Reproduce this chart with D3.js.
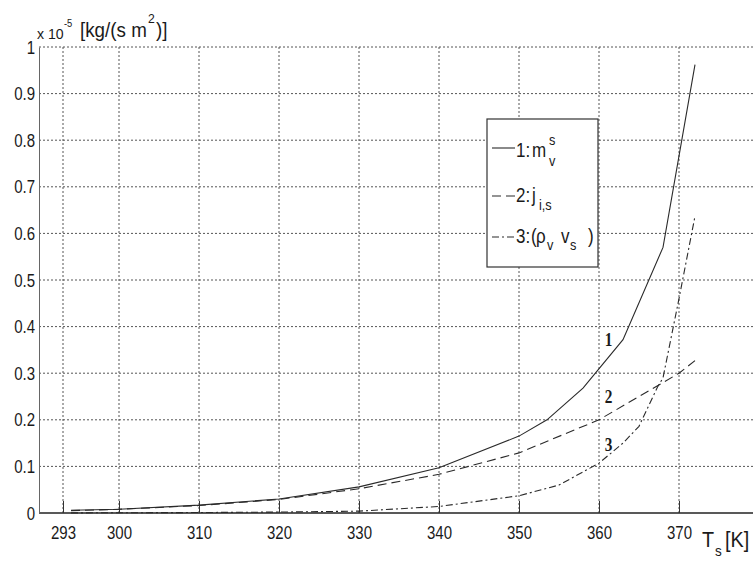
<!DOCTYPE html>
<html>
<head>
<meta charset="utf-8">
<style>
  body { margin: 0; background: #fff; }
  svg text { font-family: "Liberation Sans", Arial, sans-serif; fill: #1a1a1a; }
  .grid line { stroke: #555; stroke-width: 1; stroke-dasharray: 2,2; }
  .curve { fill: none; stroke: #2a2a2a; stroke-width: 1.1; }
  .curve-label { font-family: "Liberation Serif", "Times New Roman", serif !important; font-weight: bold; font-size: 18px; }
</style>
</head>
<body>
<script src="https://cdn.jsdelivr.net/npm/d3@7"></script>
<script>
// ---- data (values in 1e-5 kg/(s m^2)) ----
var xTicks = [293, 300, 310, 320, 330, 340, 350, 360, 370];
var yTicks = [0, 0.1, 0.2, 0.3, 0.4, 0.5, 0.6, 0.7, 0.8, 0.9, 1];
var yTickLabels = ["0", "0.1", "0.2", "0.3", "0.4", "0.5", "0.6", "0.7", "0.8", "0.9", "1"];

// 1: m_v^s
var tempM = [294, 300, 310, 320, 330, 340, 350, 353.5, 358, 363, 368, 372];
var massM = [0.006, 0.008, 0.017, 0.030, 0.056, 0.097, 0.165, 0.2, 0.268, 0.372, 0.57, 0.962];
// 2: j_i,s
var tempJ = [294, 300, 310, 320, 330, 340, 350, 360, 370, 372];
var massJ = [0.005, 0.008, 0.016, 0.029, 0.052, 0.083, 0.129, 0.2, 0.3, 0.327];
// 3: rho_v v_s
var tempR = [294, 300, 310, 320, 330, 340, 350, 355, 360, 363, 365, 367.3, 368, 370, 372];
var massR = [0.0003, 0.0005, 0.001, 0.002, 0.004, 0.014, 0.037, 0.06, 0.107, 0.15, 0.186, 0.27, 0.29, 0.46, 0.637];

var curveNames = ["1", "2", "3"];
var curveDash = [null, "9,5", "7,3,2,3"];
// where the little numbers sit next to the curves (T, value)
var labelT = [361.2, 361.2, 361.2];
var labelV = [0.358, 0.235, 0.133];

var width = 753, height = 562;
var svg = d3.select("body").append("svg")
    .attr("width", width)
    .attr("height", height);

var x = d3.scaleLinear().domain([290, 380]).range([39, 759]);
var y = d3.scaleLinear().domain([0, 1]).range([513, 47]);

var narrow = 0.79;  // the original uses a condensed face

// grid
var grid = svg.append("g").attr("class", "grid");
grid.selectAll(".vg").data(xTicks).enter().append("line")
    .attr("x1", d => x(d)).attr("x2", d => x(d))
    .attr("y1", y(0)).attr("y2", y(1));
grid.selectAll(".hg").data(yTicks.slice(1)).enter().append("line")
    .attr("x1", x(290)).attr("x2", width)
    .attr("y1", d => y(d)).attr("y2", d => y(d));

// axes
var xAxis = d3.axisBottom(x).tickValues(xTicks).tickSizeInner(-12).tickSizeOuter(0).tickPadding(13);
var gx = svg.append("g").attr("transform", "translate(0," + y(0) + ")").call(xAxis);
gx.select(".domain").attr("stroke", "#222").attr("stroke-width", 1.6).attr("d", "M" + x(290) + ",0H" + width);
gx.selectAll(".tick line").attr("stroke", "#333");
gx.selectAll(".tick text").attr("font-size", 19).attr("fill", "#1a1a1a")
    .attr("font-family", '"Liberation Sans", sans-serif')
    .attr("transform", "scale(" + narrow + ",1)");

var yAxis = d3.axisLeft(y).tickValues(yTicks).tickFormat((d, i) => yTickLabels[i]).tickSize(0).tickPadding(5);
var gy = svg.append("g").attr("transform", "translate(" + x(290) + ",0)").call(yAxis);
gy.select(".domain").attr("stroke", "#666").attr("stroke-width", 1);
gy.selectAll(".tick text").attr("font-size", 19).attr("fill", "#1a1a1a")
    .attr("font-family", '"Liberation Sans", sans-serif')
    .attr("transform", "scale(" + narrow + ",1)");

// curves
var line = d3.line().x(d => x(d[0])).y(d => y(d[1]));
var series = [d3.zip(tempM, massM), d3.zip(tempJ, massJ), d3.zip(tempR, massR)];
svg.selectAll(".curve").data(series).enter().append("path")
    .attr("class", "curve")
    .attr("d", line)
    .attr("stroke-dasharray", (d, i) => curveDash[i]);

svg.selectAll(".curve-label").data(curveNames).enter().append("text")
    .attr("class", "curve-label")
    .attr("transform", (d, i) => "translate(" + x(labelT[i]) + "," + y(labelV[i]) + ") scale(0.85,1)")
    .attr("text-anchor", "middle")
    .text(d => d);

// condensed text block anchored at (x0, y0); tspans get x in page pixels
function narrowText(x0, y0, size, sx) {
  var t = svg.append("text")
      .attr("transform", "translate(" + x0 + "," + y0 + ") scale(" + sx + ",1)")
      .attr("font-size", size);
  t.piece = function (str, px, dy, fs) {
    var s = t.append("tspan").attr("x", (px - x0) / sx).attr("y", dy || 0).text(str);
    if (fs) s.attr("font-size", fs);
    return t;
  };
  return t;
}

// y unit label
narrowText(37, 39, 20, 0.94)
    .piece("x 10", 37, 0, 15)
    .piece("-5", 64, -12, 10)
    .piece("[kg/(s m", 80, -2, 20)
    .piece("2", 148, -16, 13)
    .piece(")]", 156, -2, 20);

// x label
narrowText(703, 547, 22, 0.9)
    .piece("T", 702, 0)
    .piece("s", 715, 9, 15)
    .piece("[K]", 725, 0);

// legend
svg.append("rect").attr("x", 487).attr("y", 119).attr("width", 111).attr("height", 148)
    .attr("fill", "#fff").attr("stroke", "#333").attr("stroke-width", 1.2);
var legY = [148, 196, 237];
svg.selectAll(".ll").data(curveNames).enter().append("line")
    .attr("x1", 492).attr("x2", 515)
    .attr("y1", (d, i) => legY[i]).attr("y2", (d, i) => legY[i])
    .attr("stroke", "#2a2a2a").attr("stroke-width", 1.1)
    .attr("stroke-dasharray", (d, i) => curveDash[i]);

var ls = 0.85;
narrowText(517, 157, 20, ls)
    .piece("1:", 516, 0)
    .piece("m", 532, 0)
    .piece("s", 549, -12, 15)
    .piece("v", 549, 9, 15);

narrowText(517, 202, 20, ls)
    .piece("2:", 516, 0)
    .piece("j", 532, 0)
    .piece("i,s", 539, 8, 15);

narrowText(517, 243, 20, ls)
    .piece("3:", 516, 0)
    .piece("(", 531, 0)
    .piece("\u03c1", 536, 0)
    .piece("v", 547, 7, 15)
    .piece("v", 561, 0, 20)
    .piece("s", 570, 7, 15)
    .piece(")", 588, 0, 20);
</script>
</body>
</html>
